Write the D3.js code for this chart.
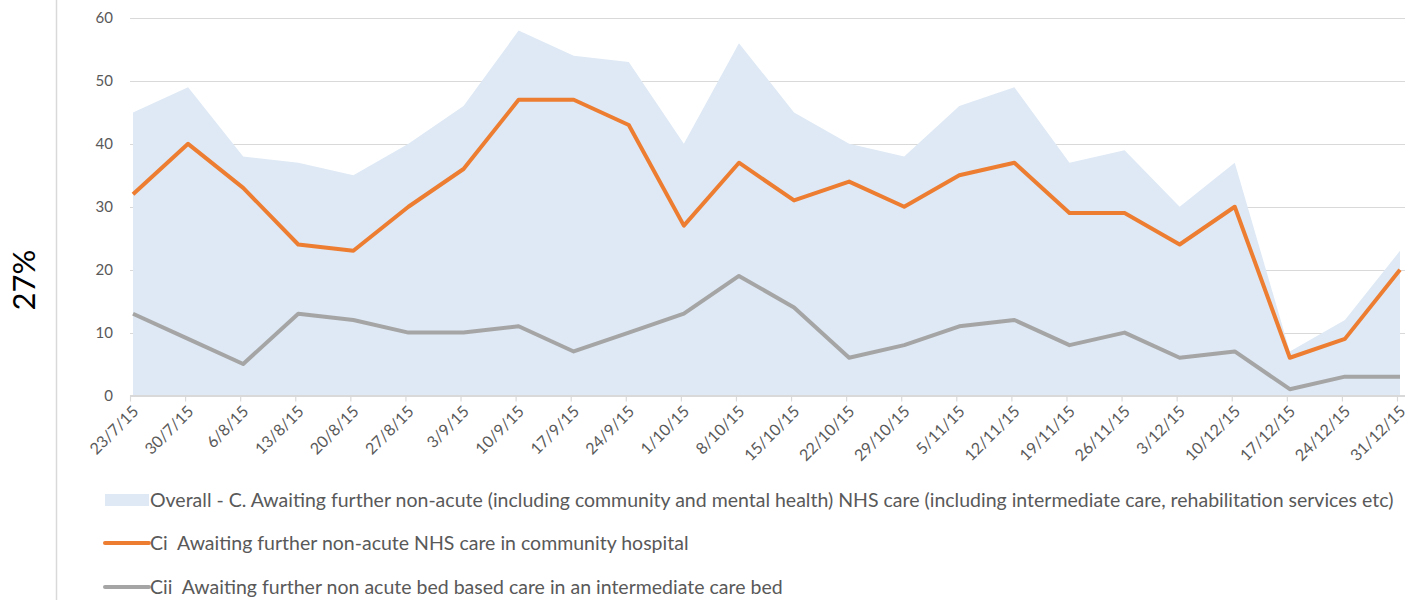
<!DOCTYPE html>
<html>
<head>
<meta charset="utf-8">
<script src="https://cdn.jsdelivr.net/npm/d3@7"></script>
<style>
  body { margin: 0; background: #fff; }
  text { font-family: Lato, "Open Sans", sans-serif; }
</style>
</head>
<body>
<svg id="chart" width="1424" height="600"></svg>
<script>
var dates = ["23/7/15","30/7/15","6/8/15","13/8/15","20/8/15","27/8/15","3/9/15","10/9/15","17/9/15","24/9/15",
  "1/10/15","8/10/15","15/10/15","22/10/15","29/10/15","5/11/15","12/11/15","19/11/15","26/11/15","3/12/15",
  "10/12/15","17/12/15","24/12/15","31/12/15"];
var overall = [45,49,38,37,35,40,46,58,54,53,40,56,45,40,38,46,49,37,39,30,37,7,12,23];
var ci = [32,40,33,24,23,30,36,47,47,43,27,37,31,34,30,35,37,29,29,24,30,6,9,20];
var cii = [13,9,5,13,12,10,10,11,7,10,13,19,14,6,8,11,12,8,10,6,7,1,3,3];
var yTicks = [0,10,20,30,40,50,60];
var legendLabels = [
  "Overall - C. Awaiting further non-acute (including community and mental health) NHS care (including intermediate care, rehabilitation services etc)",
  "Ci  Awaiting further non-acute NHS care in community hospital",
  "Cii  Awaiting further non acute bed based care in an intermediate care bed"
];
var sideLabel = "27%";

var areaColor = "#dee9f5", orange = "#ed7d31", grey = "#a5a5a5", textColor = "#595959", gridColor = "#d9d9d9";

var svg = d3.select("#chart");

// left divider + side label
svg.append("line").attr("x1", 56.5).attr("x2", 56.5).attr("y1", 0).attr("y2", 600)
  .attr("stroke", gridColor).attr("stroke-width", 1.5);
svg.append("text").text(sideLabel)
  .attr("transform", "translate(35,280) rotate(-90)")
  .attr("text-anchor", "middle")
  .style("font-size", "31px").attr("fill", "#000");

var x = d3.scalePoint().domain(dates).range([133, 1400]);
var y = d3.scaleLinear().domain([0, 60]).range([395.5, 18]);
var left = 130, right = 1405;

// gridlines
svg.append("g").selectAll("line").data(yTicks.slice(1)).enter().append("line")
  .attr("x1", left).attr("x2", right)
  .attr("y1", function(d){ return Math.round(y(d)) + 0.5; })
  .attr("y2", function(d){ return Math.round(y(d)) + 0.5; })
  .attr("stroke", gridColor).attr("stroke-width", 1.2);

// overall area
var area = d3.area()
  .x(function(d, i){ return x(dates[i]); })
  .y0(y(0))
  .y1(function(d){ return y(d); });
svg.append("path").datum(overall).attr("d", area).attr("fill", areaColor);

// x axis
var xg = svg.append("g").attr("transform", "translate(-3," + y(0) + ")")
  .call(d3.axisBottom(x).tickSize(6).tickSizeOuter(0));
xg.select(".domain").remove();
xg.selectAll(".tick line").attr("stroke", gridColor).attr("stroke-width", 1.2);
xg.selectAll(".tick text")
  .attr("fill", textColor).style("font-size", "16px")
  .attr("text-anchor", "end")
  .attr("x", 0).attr("y", 0).attr("dy", 0)
  .attr("transform", "translate(9,17) rotate(-45)");
svg.append("line").attr("x1", left).attr("x2", right).attr("y1", y(0) + 0.5).attr("y2", y(0) + 0.5)
  .attr("stroke", gridColor).attr("stroke-width", 2);

// y axis labels
var yg = svg.append("g").attr("transform", "translate(113,0)")
  .call(d3.axisLeft(y).tickValues(yTicks).tickSize(0).tickPadding(0));
yg.select(".domain").remove();
yg.selectAll(".tick text").attr("fill", textColor).style("font-size", "15px");

// lines
var line = d3.line()
  .x(function(d, i){ return x(dates[i]); })
  .y(function(d){ return y(d); });
svg.append("path").datum(ci).attr("d", line).attr("fill", "none")
  .attr("stroke", orange).attr("stroke-width", 4).attr("stroke-linejoin", "round");
svg.append("path").datum(cii).attr("d", line).attr("fill", "none")
  .attr("stroke", grey).attr("stroke-width", 4).attr("stroke-linejoin", "round");

// legend
var legendY = [500, 543, 587];
var lg = svg.append("g");
lg.append("rect").attr("x", 105).attr("y", legendY[0] - 6).attr("width", 44).attr("height", 12).attr("fill", areaColor);
lg.append("line").attr("x1", 105).attr("x2", 149).attr("y1", legendY[1]).attr("y2", legendY[1])
  .attr("stroke", orange).attr("stroke-width", 4).attr("stroke-linecap", "round");
lg.append("line").attr("x1", 105).attr("x2", 149).attr("y1", legendY[2]).attr("y2", legendY[2])
  .attr("stroke", grey).attr("stroke-width", 4).attr("stroke-linecap", "round");
lg.selectAll("text.leg").data(legendLabels).enter().append("text")
  .attr("class", "leg")
  .attr("x", 150).attr("y", function(d, i){ return legendY[i]; })
  .attr("dy", "0.35em")
  .attr("fill", textColor).style("font-size", "19.5px")
  .style("white-space", "pre")
  .text(function(d){ return d; });
</script>
</body>
</html>
